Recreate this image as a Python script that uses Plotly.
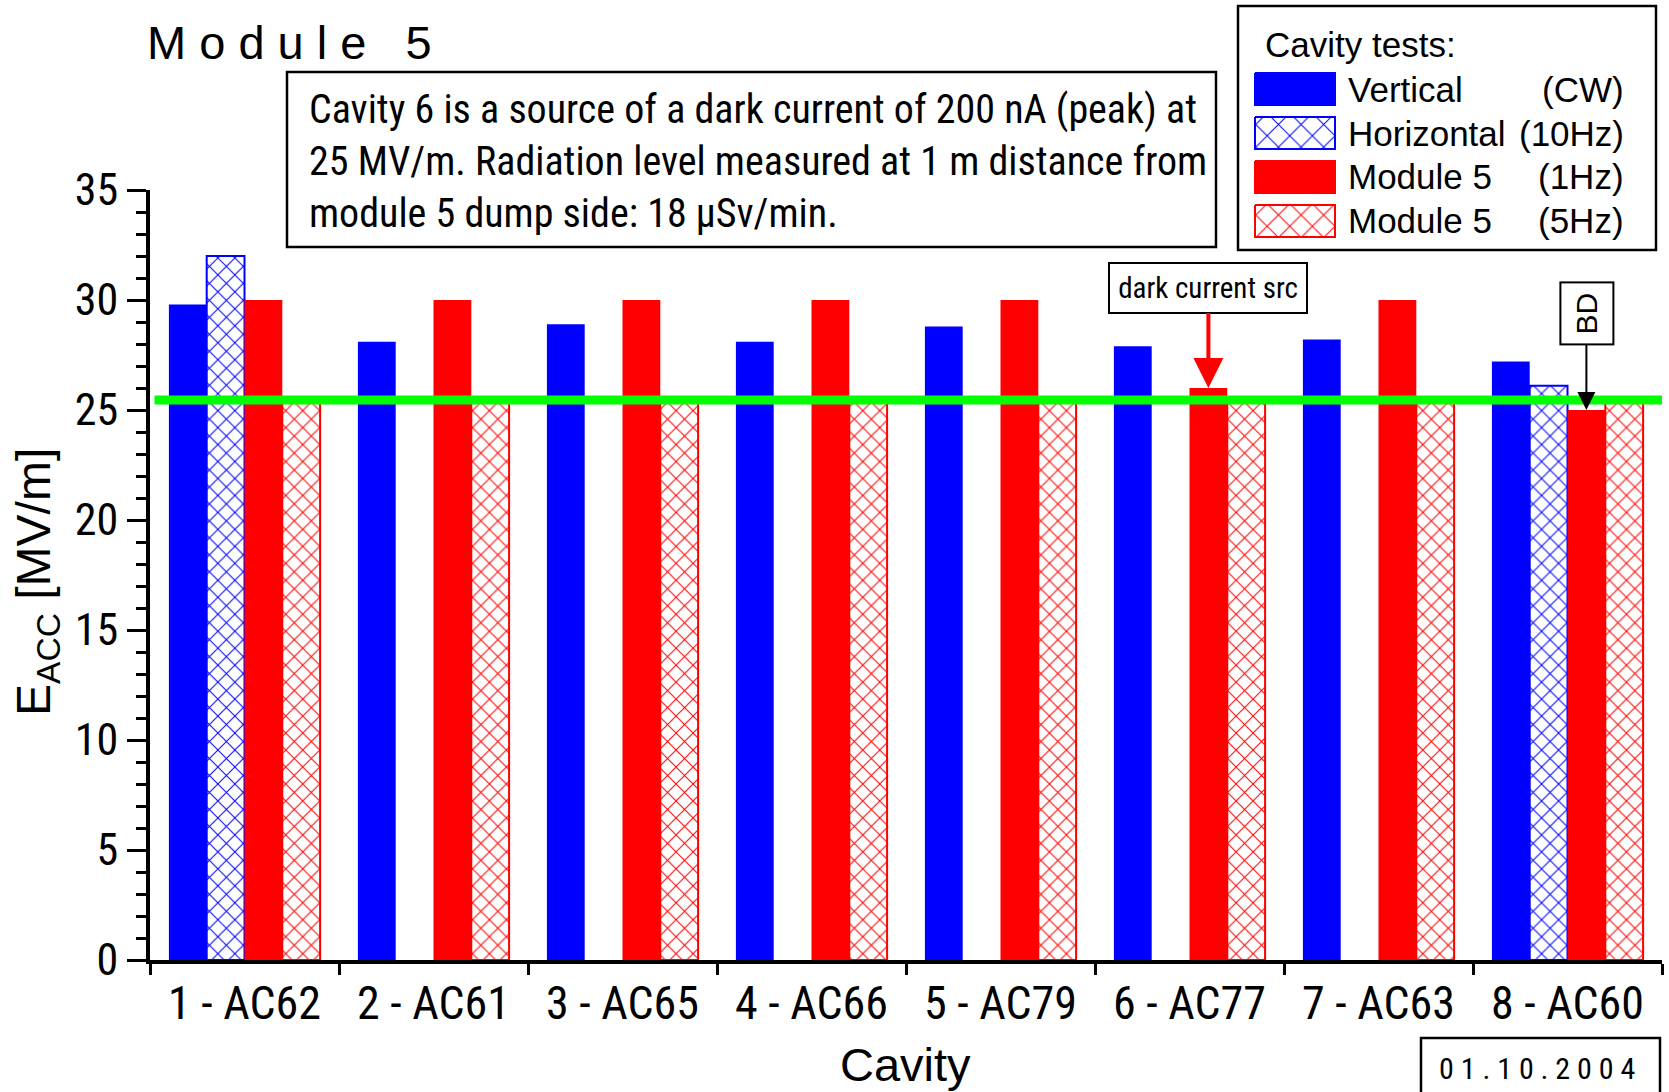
import plotly.graph_objects as go

# ---------------- data ----------------
cavities = ["1 - AC62", "2 - AC61", "3 - AC65", "4 - AC66",
            "5 - AC79", "6 - AC77", "7 - AC63", "8 - AC60"]
vertical_cw = [29.8, 28.1, 28.9, 28.1, 28.8, 27.9, 28.2, 27.2]
horizontal_10hz = [32.0, None, None, None, None, None, None, 26.1]
module5_1hz = [30.0, 30.0, 30.0, 30.0, 30.0, 26.0, 30.0, 25.0]
module5_5hz = [25.5, 25.5, 25.5, 25.5, 25.5, 25.5, 25.5, 25.5]
threshold = 25.45
series_names = ["Vertical", "Horizontal", "Module 5", "Module 5"]
series_modes = ["(CW)", "(10Hz)", "(1Hz)", "(5Hz)"]
y_max = 35

# ---------------- style ----------------
W, H = 1669, 1092
L, R, T, B = 150, 1662, 190, 960          # plot area in canvas pixels
NARROW = ("Noto Sans ExtraCondensed, Noto Sans Condensed, Roboto Condensed, "
          "Open Sans Condensed, Liberation Sans Narrow, Roboto")
SANS = "Liberation Sans, Arial, sans-serif"
BLUE, RED, GREEN = "#0000ff", "#ff0000", "#00ff00"


def pxx(x):
    return x / W


def pxy(y):
    return 1 - y / H


series = [
    (vertical_cw, BLUE, False),
    (horizontal_10hz, BLUE, True),
    (module5_1hz, RED, False),
    (module5_5hz, RED, True),
]

fig = go.Figure()
for vals, col, hatched in series:
    fig.add_trace(go.Bar(
        x=cavities, y=vals, xaxis="x", yaxis="y",
        marker=dict(
            color=col,
            line=dict(color=col, width=2 if hatched else 0),
            pattern=dict(shape="x" if hatched else "", fgcolor=col,
                         bgcolor="white", size=12, solidity=0.16,
                         fillmode="replace"),
        ),
        showlegend=False, hoverinfo="x+y",
    ))

# ---------------- custom legend (swatches on a full-canvas overlay axis) ----------------
sw_x0, sw_x1 = 1255, 1335
row_y = [89, 133, 177, 221]
sw_h = 32
annotations = []
for (vals, col, hatched), yc, nm, md in zip(series, row_y, series_names, series_modes):
    y0, y1 = yc - sw_h / 2, yc + sw_h / 2
    kw = dict(
        x=[sw_x0, sw_x1, sw_x1, sw_x0, sw_x0], y=[y0, y0, y1, y1, y0],
        xaxis="x3", yaxis="y3", mode="lines", fill="toself",
        line=dict(color=col, width=2), showlegend=False, hoverinfo="skip",
    )
    if hatched:
        kw["fillcolor"] = "white"
        kw["fillpattern"] = dict(shape="x", fgcolor=col, bgcolor="white",
                                 size=16, solidity=0.12, fillmode="replace")
    else:
        kw["fillcolor"] = col
    fig.add_trace(go.Scatter(**kw))
    annotations.append(dict(text=nm, x=pxx(1346), y=pxy(yc), xref="paper", yref="paper",
                            xanchor="left", yanchor="middle", showarrow=False,
                            font=dict(family=SANS, size=35, color="black")))
    annotations.append(dict(text=md, x=pxx(1626), y=pxy(yc), xref="paper", yref="paper",
                            xanchor="right", yanchor="middle", showarrow=False,
                            font=dict(family=SANS, size=35, color="black")))

annotations.append(dict(text="Cavity tests:", x=pxx(1263), y=pxy(45), xref="paper", yref="paper",
                        xanchor="left", yanchor="middle", showarrow=False,
                        font=dict(family=SANS, size=35, color="black")))

# title
annotations.append(dict(text="M o d u l e&nbsp;&nbsp; 5", x=pxx(145), y=pxy(43), xref="paper",
                        yref="paper", xanchor="left", yanchor="middle", showarrow=False,
                        font=dict(family=SANS, size=47, color="black")))

# note text box
annotations.append(dict(
    text="Cavity 6 is a source of a dark current of 200 nA (peak) at<br>"
         "25 MV/m. Radiation level measured at 1 m distance from<br>"
         "module 5 dump side: 18 µSv/min.",
    x=pxx(307), y=pxy(161), xref="paper", yref="paper", xanchor="left", yanchor="middle",
    align="left", showarrow=False, font=dict(family=NARROW, size=40, color="black")))

# axis titles
annotations.append(dict(text="Cavity", x=pxx((L + R) / 2), y=pxy(1064), xref="paper", yref="paper",
                        xanchor="center", yanchor="middle", showarrow=False,
                        font=dict(family=SANS, size=47, color="black")))
annotations.append(dict(text="E<sub>ACC</sub> [MV/m]", x=pxx(37), y=pxy(582), xref="paper",
                        yref="paper", xanchor="center", yanchor="middle", textangle=-90,
                        showarrow=False, font=dict(family=SANS, size=48, color="black")))

# date box
annotations.append(dict(text="0 1 . 1 0 . 2 0 0 4", x=pxx(1537), y=pxy(1068), xref="paper",
                        yref="paper", xanchor="center", yanchor="middle", showarrow=False,
                        font=dict(family=NARROW, size=30, color="black")))

# arrow callouts, positioned from the data (3rd bar of each group)
n_groups = len(series)
group_w = 0.8
offset_1hz = (2 - (n_groups - 1) / 2) * group_w / n_groups
i6 = 5
annotations.append(dict(
    text="dark current src", x=i6 + offset_1hz, y=module5_1hz[i6], xref="x", yref="y",
    showarrow=True, ax=0, ay=-100, arrowcolor=RED, arrowwidth=4, arrowhead=2, arrowsize=1.5,
    bordercolor="black", borderwidth=2, borderpad=6, bgcolor="white", width=184, height=36,
    font=dict(family=NARROW, size=29, color="black")))
i8 = 7
annotations.append(dict(
    text="BD", x=i8 + offset_1hz, y=module5_1hz[i8], xref="x", yref="y", textangle=-90,
    showarrow=True, ax=0, ay=-97, arrowcolor="black", arrowwidth=2, arrowhead=2, arrowsize=1.8,
    bordercolor="black", borderwidth=2, borderpad=9, bgcolor="white",
    font=dict(family=SANS, size=30, color="black")))

shapes = [
    # threshold line
    dict(type="line", xref="x domain", yref="y", x0=0.003, x1=1.0, y0=threshold, y1=threshold,
         line=dict(color=GREEN, width=9), layer="above"),
    # note box
    dict(type="rect", xref="paper", yref="paper", x0=pxx(287), x1=pxx(1216), y0=pxy(72),
         y1=pxy(247), line=dict(color="black", width=2.5)),
    # legend box
    dict(type="rect", xref="paper", yref="paper", x0=pxx(1238), x1=pxx(1656), y0=pxy(6),
         y1=pxy(250), line=dict(color="black", width=2.5)),
    # date box
    dict(type="rect", xref="paper", yref="paper", x0=pxx(1421), x1=pxx(1660), y0=pxy(1038),
         y1=pxy(1100), line=dict(color="black", width=2.5)),
]

boundaries = [i - 0.5 for i in range(len(cavities) + 1)]

fig.update_layout(
    template="none",
    width=W, height=H, autosize=False,
    margin=dict(l=0, r=0, t=0, b=0, pad=0, autoexpand=False),
    paper_bgcolor="white", plot_bgcolor="rgba(0,0,0,0)",
    barmode="group", bargap=0.2, bargroupgap=0,
    showlegend=False,
    xaxis=dict(domain=[pxx(L), pxx(R)], anchor="y", type="category", range=[-0.5, len(cavities) - 0.5],
               tickson="boundaries", ticks="outside", ticklen=11, tickwidth=3, tickcolor="black",
               showline=True, linewidth=4, linecolor="black", showgrid=False, zeroline=False,
               automargin=False,
               tickfont=dict(family=NARROW, size=46, color="black"), ticklabelstandoff=0),
    xaxis2=dict(overlaying="x", anchor="y", type="linear", range=[-0.5, len(cavities) - 0.5],
                tickmode="array", tickvals=boundaries, ticks="inside", ticklen=10, tickwidth=3,
                tickcolor="black", showticklabels=False, showline=False, showgrid=False,
                zeroline=False, automargin=False),
    yaxis=dict(domain=[pxy(B), pxy(T)], anchor="x", range=[0, y_max], dtick=5, tick0=0,
               ticks="outside", ticklen=19, tickwidth=3, tickcolor="black",
               minor=dict(dtick=1, ticks="outside", ticklen=10, tickwidth=3, tickcolor="black",
                          showgrid=False),
               showline=True, linewidth=4, linecolor="black", showgrid=False, zeroline=False,
               automargin=False,
               tickfont=dict(family=NARROW, size=44, color="black")),
    xaxis3=dict(domain=[0, 1], anchor="y3", range=[0, W], visible=False, fixedrange=True,
                automargin=False),
    yaxis3=dict(domain=[0, 1], anchor="x3", range=[H, 0], visible=False, fixedrange=True,
                automargin=False),
    annotations=annotations, shapes=shapes,
)

fig.write_html("out.html", config=dict(displayModeBar=False),
               post_script="document.body.style.margin='0px';")
